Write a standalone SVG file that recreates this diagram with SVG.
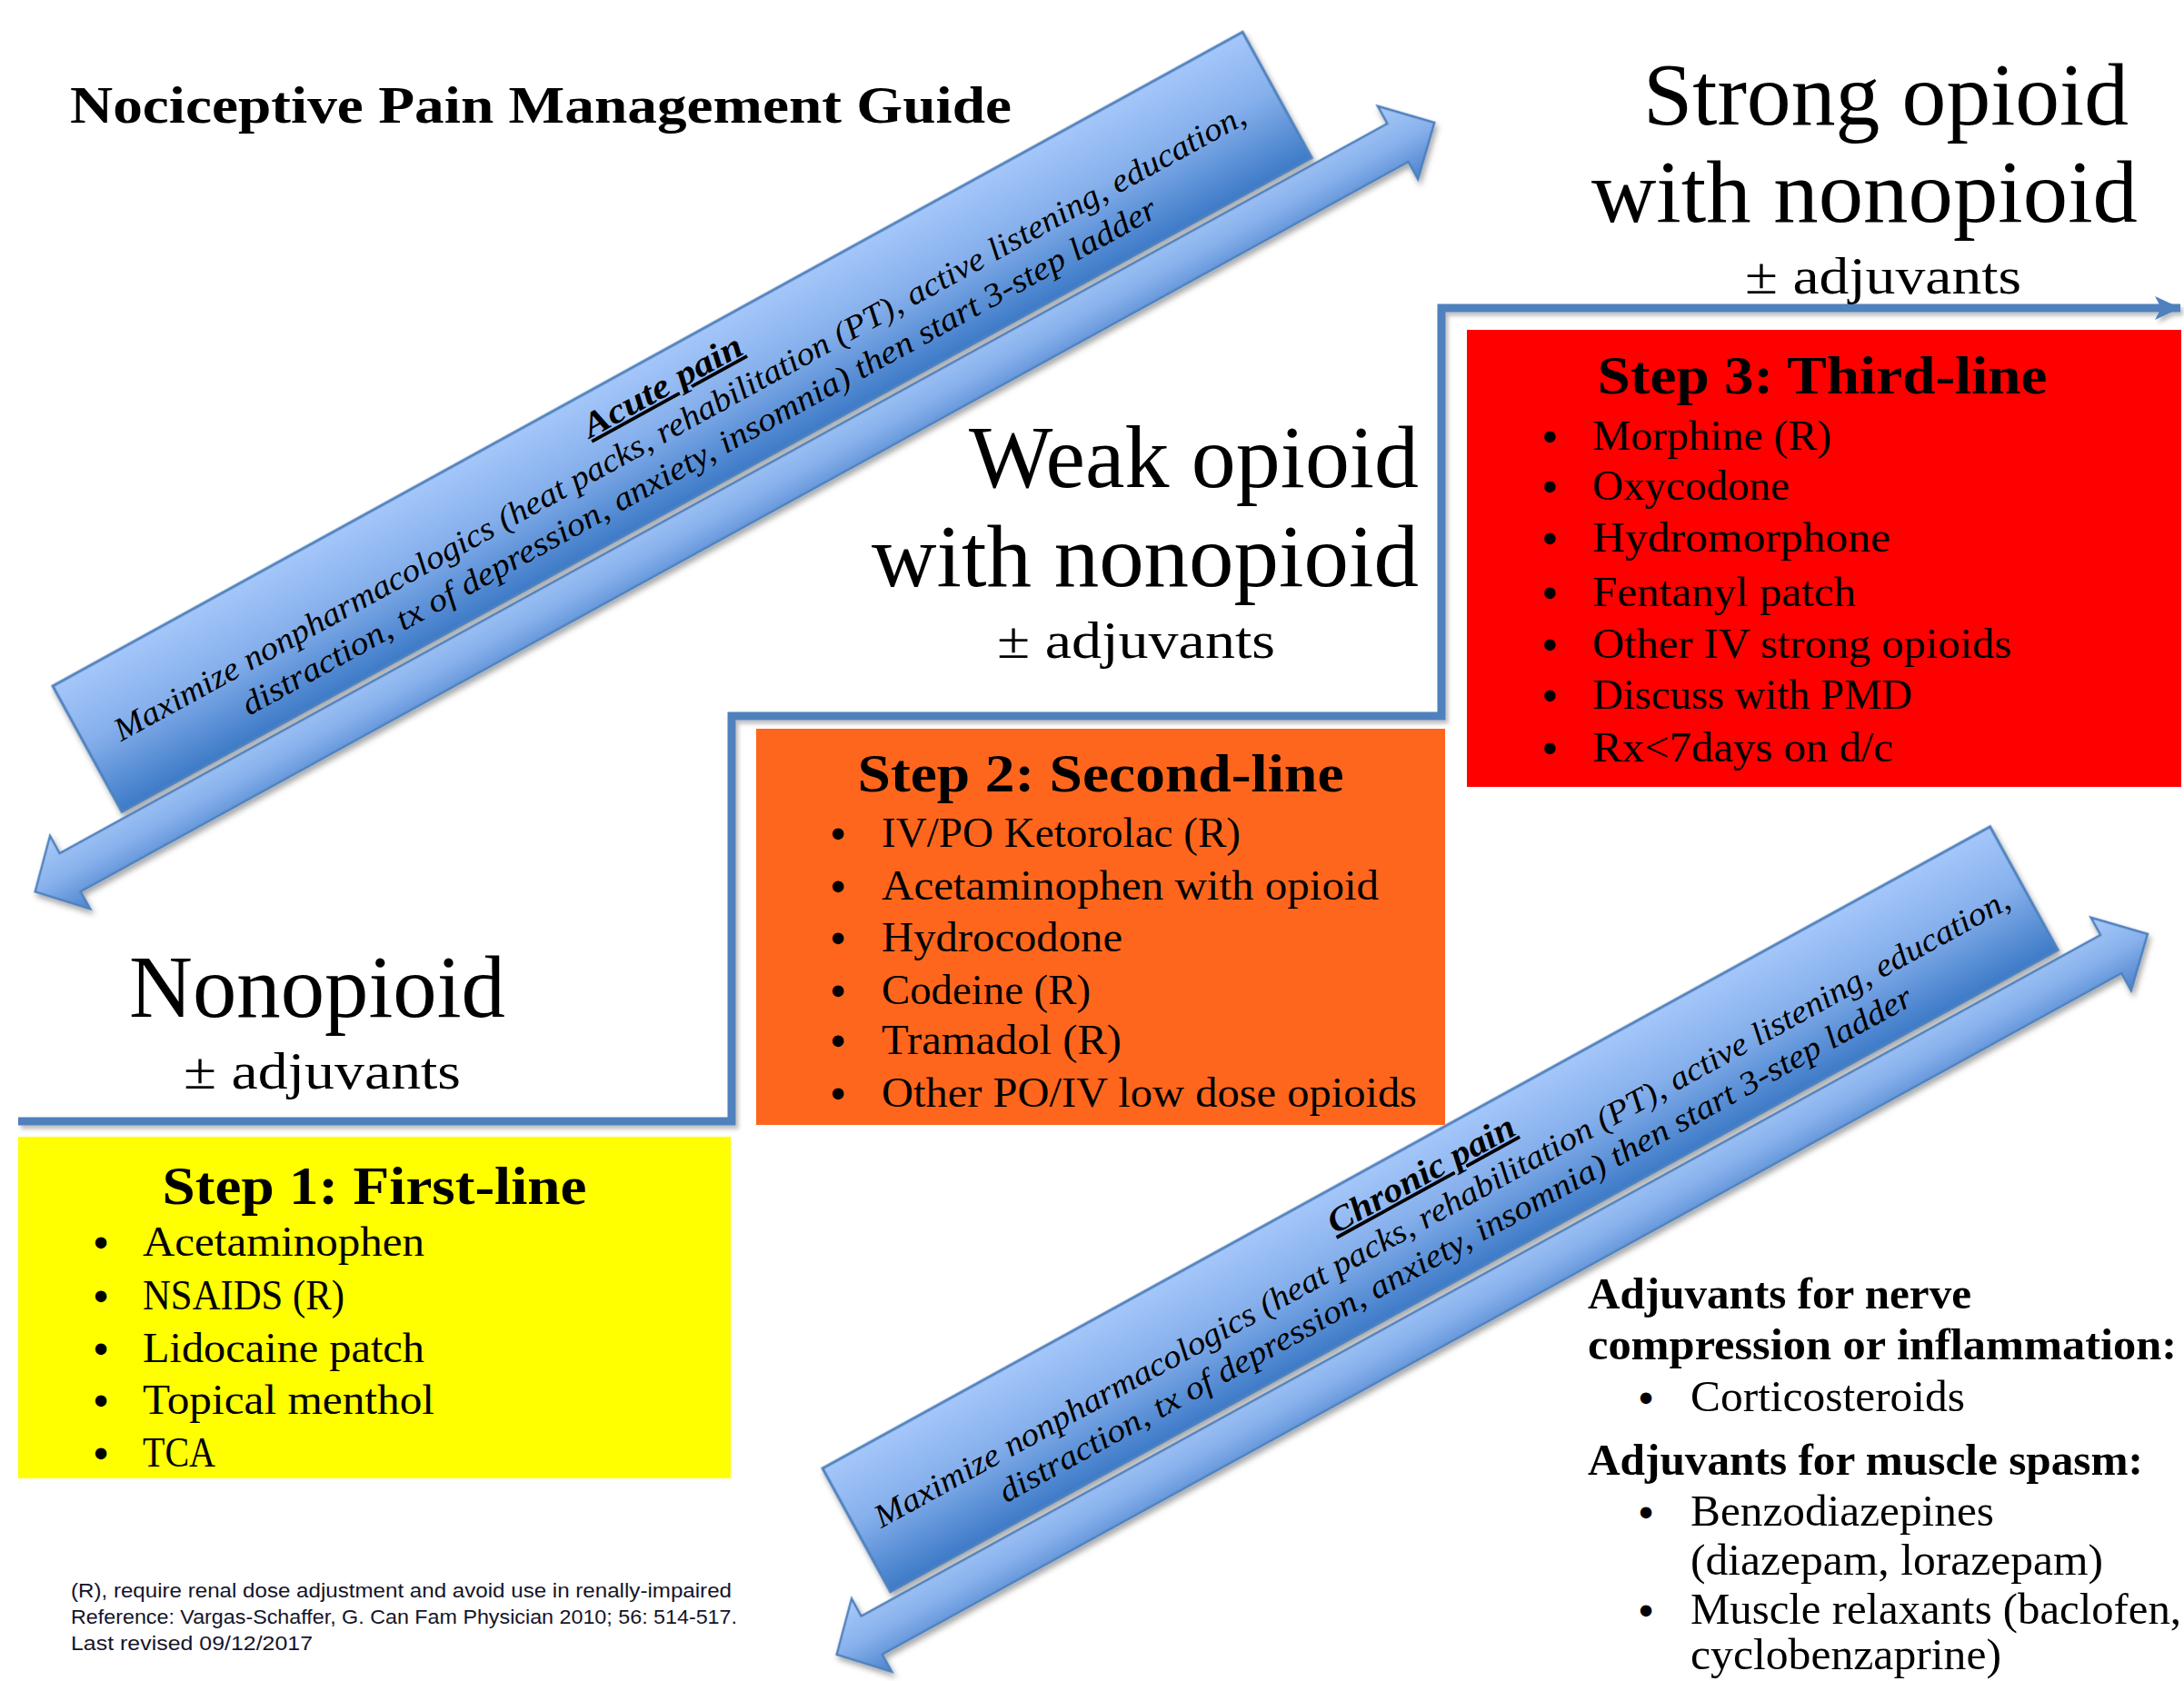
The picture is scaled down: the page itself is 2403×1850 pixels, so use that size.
<svg xmlns="http://www.w3.org/2000/svg" width="2403" height="1850" viewBox="0 0 2403 1850">
<defs>
<style>
.serif{font-family:"Liberation Serif","Times New Roman",serif;fill:#000}
.big{font-size:98px}
.adj{font-size:58px}
.hdr{font-size:60px;font-weight:bold;text-anchor:middle}
.item{font-size:46px}
.bul{font-size:46px;font-weight:bold;text-anchor:middle}
.side{font-size:48px}
.sideH{font-size:48px;font-weight:bold}
.ban{font-size:36px;font-style:italic;text-anchor:middle}
.banT{font-size:38px;font-weight:bold;font-style:italic;text-decoration:underline;text-anchor:middle}
.foot{font-family:"Liberation Sans",Arial,sans-serif;font-size:22px;fill:#14142a}
.banner{fill:url(#bannerGrad);stroke:#4F81BD;stroke-width:3}
.blockArrow{fill:url(#arrowGrad);stroke:#4F81BD;stroke-width:2.5;stroke-linejoin:miter}
.step{fill:none;stroke:#4F81BD;stroke-width:9;stroke-linejoin:miter}
</style>
<linearGradient id="bannerGrad" x1="0" y1="0" x2="0" y2="1">
<stop offset="0" stop-color="#A5C7FA"/>
<stop offset="0.45" stop-color="#86B0EC"/>
<stop offset="1" stop-color="#3D7AC7"/>
</linearGradient>
<linearGradient id="arrowGrad" x1="0" y1="0" x2="0" y2="1">
<stop offset="0" stop-color="#A8CAF9"/>
<stop offset="0.5" stop-color="#88B1EC"/>
<stop offset="1" stop-color="#4A82CC"/>
</linearGradient>
<filter id="shadow" x="-5%" y="-20%" width="110%" height="150%">
<feDropShadow dx="0" dy="5" stdDeviation="3" flood-color="#000" flood-opacity="0.35"/>
</filter>
<filter id="lineShadow" x="-5%" y="-5%" width="110%" height="110%">
<feDropShadow dx="3" dy="4" stdDeviation="2" flood-color="#000" flood-opacity="0.25"/>
</filter>
<marker id="stepArrow" markerUnits="userSpaceOnUse" markerWidth="32" markerHeight="32" viewBox="0 0 32 32" refX="30" refY="16" orient="auto">
<path d="M2,3 L30,16 L2,29 L9,16 Z" fill="#4F81BD"/>
</marker>
</defs>

<rect x="0" y="0" width="2403" height="1850" fill="#FFFFFF"/>

<g id="title">
<text class="serif" x="77" y="135" font-size="58" font-weight="bold" textLength="1036" lengthAdjust="spacingAndGlyphs">Nociceptive Pain Management Guide</text>
</g>

<g id="acute-pain" transform="translate(58,755) rotate(-28.8)">
<rect class="banner" x="0" y="0" width="1494" height="158" filter="url(#shadow)"/>
<text class="serif banT" x="747" y="46" textLength="195" lengthAdjust="spacingAndGlyphs">Acute pain</text>
<text class="serif ban" x="744" y="90" textLength="1415" lengthAdjust="spacingAndGlyphs">Maximize nonpharmacologics (heat packs, rehabilitation (PT), active listening, education,</text>
<text class="serif ban" x="745" y="133" textLength="1143" lengthAdjust="spacingAndGlyphs">distraction, tx of depression, anxiety, insomnia) then start 3-step ladder</text>
</g>

<g id="chronic-pain" transform="translate(905,1616) rotate(-28.8)">
<rect class="banner" x="0" y="0" width="1466" height="155" filter="url(#shadow)"/>
<text class="serif banT" x="733" y="46" textLength="230" lengthAdjust="spacingAndGlyphs">Chronic pain</text>
<text class="serif ban" x="735" y="89" textLength="1420" lengthAdjust="spacingAndGlyphs">Maximize nonpharmacologics (heat packs, rehabilitation (PT), active listening, education,</text>
<text class="serif ban" x="729" y="131" textLength="1141" lengthAdjust="spacingAndGlyphs">distraction, tx of depression, anxiety, insomnia) then start 3-step ladder</text>
</g>

<g id="connectors">
<path class="blockArrow" filter="url(#shadow)" transform="translate(58,755) rotate(-28.8)" d="M-126,189 L-82,143 L-82,165 L1585,165 L1585,143 L1631,189 L1585,235 L1585,213 L-82,213 L-82,235 Z"/>
<path class="blockArrow" filter="url(#shadow)" transform="translate(905,1616) rotate(-28.8)" d="M-85,187 L-41,141 L-41,163 L1515,163 L1515,141 L1561,187 L1515,233 L1515,211 L-41,211 L-41,233 Z"/>
<polyline class="step" filter="url(#lineShadow)" points="20,1234 805,1234 805,788 1586,788 1586,339 2399,339" marker-end="url(#stepArrow)"/>
</g>

<g id="label-nonopioid">
<text class="serif big" x="142" y="1119" textLength="414" lengthAdjust="spacingAndGlyphs">Nonopioid</text>
<text class="serif adj" x="202" y="1198" textLength="305" lengthAdjust="spacingAndGlyphs">± adjuvants</text>
</g>

<g id="label-weak">
<text class="serif big" x="1066" y="536" textLength="495" lengthAdjust="spacingAndGlyphs">Weak opioid</text>
<text class="serif big" x="959" y="645" textLength="602" lengthAdjust="spacingAndGlyphs">with nonopioid</text>
<text class="serif adj" x="1097" y="724" textLength="306" lengthAdjust="spacingAndGlyphs">± adjuvants</text>
</g>

<g id="label-strong">
<text class="serif big" x="1808" y="137" textLength="534" lengthAdjust="spacingAndGlyphs">Strong opioid</text>
<text class="serif big" x="1751" y="244" textLength="601" lengthAdjust="spacingAndGlyphs">with nonopioid</text>
<text class="serif adj" x="1920" y="323" textLength="304" lengthAdjust="spacingAndGlyphs">± adjuvants</text>
</g>

<g id="step1">
<rect x="20" y="1251" width="784" height="376" fill="#FFFF00"/>
<text class="serif hdr" x="412" y="1325" textLength="467" lengthAdjust="spacingAndGlyphs">Step 1: First-line</text>
<text class="serif bul" x="111" y="1383">•</text>
<text class="serif item" x="157" y="1382" textLength="310" lengthAdjust="spacingAndGlyphs">Acetaminophen</text>
<text class="serif bul" x="111" y="1442">•</text>
<text class="serif item" x="157" y="1441" textLength="222" lengthAdjust="spacingAndGlyphs">NSAIDS (R)</text>
<text class="serif bul" x="111" y="1500">•</text>
<text class="serif item" x="157" y="1499" textLength="310" lengthAdjust="spacingAndGlyphs">Lidocaine patch</text>
<text class="serif bul" x="111" y="1557">•</text>
<text class="serif item" x="157" y="1556" textLength="321" lengthAdjust="spacingAndGlyphs">Topical menthol</text>
<text class="serif bul" x="111" y="1615">•</text>
<text class="serif item" x="157" y="1614" textLength="80" lengthAdjust="spacingAndGlyphs">TCA</text>
</g>

<g id="step2">
<rect x="832" y="802" width="758" height="436" fill="#FF661D"/>
<text class="serif hdr" x="1211" y="871" textLength="535" lengthAdjust="spacingAndGlyphs">Step 2: Second-line</text>
<text class="serif bul" x="922" y="933">•</text>
<text class="serif item" x="970" y="932" textLength="395" lengthAdjust="spacingAndGlyphs">IV/PO Ketorolac (R)</text>
<text class="serif bul" x="922" y="991">•</text>
<text class="serif item" x="970" y="990" textLength="547" lengthAdjust="spacingAndGlyphs">Acetaminophen with opioid</text>
<text class="serif bul" x="922" y="1048">•</text>
<text class="serif item" x="970" y="1047" textLength="265" lengthAdjust="spacingAndGlyphs">Hydrocodone</text>
<text class="serif bul" x="922" y="1106">•</text>
<text class="serif item" x="970" y="1105" textLength="230" lengthAdjust="spacingAndGlyphs">Codeine (R)</text>
<text class="serif bul" x="922" y="1161">•</text>
<text class="serif item" x="970" y="1160" textLength="264" lengthAdjust="spacingAndGlyphs">Tramadol (R)</text>
<text class="serif bul" x="922" y="1219">•</text>
<text class="serif item" x="970" y="1218" textLength="589" lengthAdjust="spacingAndGlyphs">Other PO/IV low dose opioids</text>
</g>

<g id="step3">
<rect x="1614" y="363" width="786" height="503" fill="#FF0000"/>
<text class="serif hdr" x="2005" y="433" textLength="495" lengthAdjust="spacingAndGlyphs">Step 3: Third-line</text>
<text class="serif bul" x="1705" y="496">•</text>
<text class="serif item" x="1752" y="495" textLength="263" lengthAdjust="spacingAndGlyphs">Morphine (R)</text>
<text class="serif bul" x="1705" y="551">•</text>
<text class="serif item" x="1752" y="550" textLength="217" lengthAdjust="spacingAndGlyphs">Oxycodone</text>
<text class="serif bul" x="1705" y="608">•</text>
<text class="serif item" x="1752" y="607" textLength="328" lengthAdjust="spacingAndGlyphs">Hydromorphone</text>
<text class="serif bul" x="1705" y="668">•</text>
<text class="serif item" x="1752" y="667" textLength="290" lengthAdjust="spacingAndGlyphs">Fentanyl patch</text>
<text class="serif bul" x="1705" y="725">•</text>
<text class="serif item" x="1752" y="724" textLength="461" lengthAdjust="spacingAndGlyphs">Other IV strong opioids</text>
<text class="serif bul" x="1705" y="781">•</text>
<text class="serif item" x="1752" y="780" textLength="352" lengthAdjust="spacingAndGlyphs">Discuss with PMD</text>
<text class="serif bul" x="1705" y="839">•</text>
<text class="serif item" x="1752" y="838" textLength="331" lengthAdjust="spacingAndGlyphs">Rx&lt;7days on d/c</text>
</g>

<g id="adjuvants">
<text class="serif sideH" x="1747" y="1440" textLength="422" lengthAdjust="spacingAndGlyphs">Adjuvants for nerve</text>
<text class="serif sideH" x="1747" y="1496" textLength="648" lengthAdjust="spacingAndGlyphs">compression or inflammation:</text>
<text class="serif bul" x="1811" y="1554">•</text>
<text class="serif side" x="1860" y="1553" textLength="302" lengthAdjust="spacingAndGlyphs">Corticosteroids</text>
<text class="serif sideH" x="1747" y="1623" textLength="611" lengthAdjust="spacingAndGlyphs">Adjuvants for muscle spasm:</text>
<text class="serif bul" x="1811" y="1680">•</text>
<text class="serif side" x="1860" y="1679" textLength="334" lengthAdjust="spacingAndGlyphs">Benzodiazepines</text>
<text class="serif side" x="1860" y="1733" textLength="454" lengthAdjust="spacingAndGlyphs">(diazepam, lorazepam)</text>
<text class="serif bul" x="1811" y="1788">•</text>
<text class="serif side" x="1860" y="1787" textLength="540" lengthAdjust="spacingAndGlyphs">Muscle relaxants (baclofen,</text>
<text class="serif side" x="1860" y="1837" font-size="46" textLength="342" lengthAdjust="spacingAndGlyphs">cyclobenzaprine)</text>
</g>

<g id="footnote">
<text class="foot" x="78" y="1758" textLength="727" lengthAdjust="spacingAndGlyphs">(R), require renal dose adjustment and avoid use in renally-impaired</text>
<text class="foot" x="78" y="1787" textLength="733" lengthAdjust="spacingAndGlyphs">Reference: Vargas-Schaffer, G.  Can Fam Physician 2010; 56: 514-517.</text>
<text class="foot" x="78" y="1816" textLength="266" lengthAdjust="spacingAndGlyphs">Last revised 09/12/2017</text>
</g>
</svg>
